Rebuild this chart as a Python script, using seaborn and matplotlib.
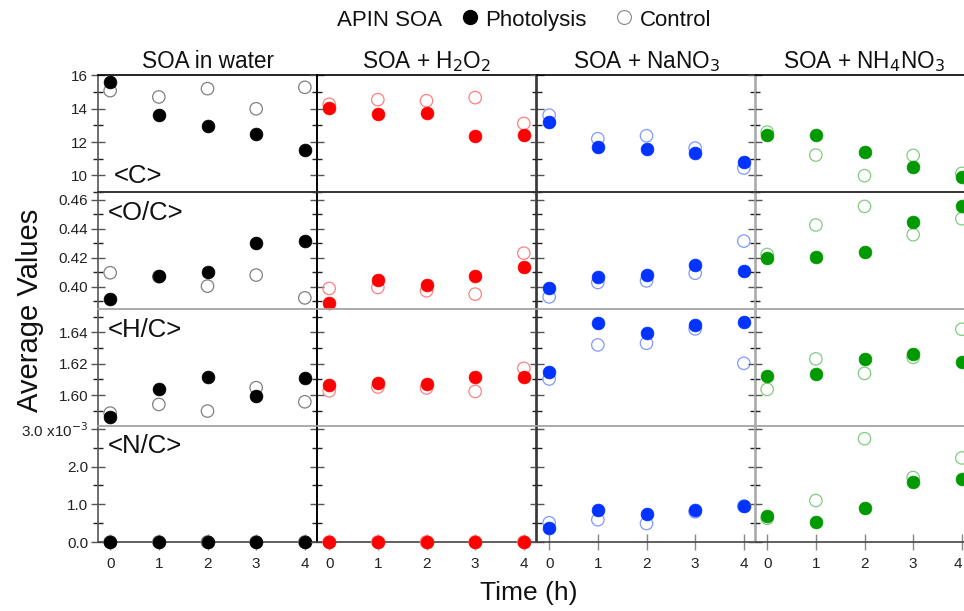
import matplotlib
matplotlib.use("Agg")
import matplotlib.pyplot as plt
from matplotlib.lines import Line2D
import seaborn as sns
import pandas as pd

sns.set_theme(style="white")
plt.rcParams['font.family'] = ['Liberation Sans', 'DejaVu Sans']

# ---------------- data ----------------
TIME = [0, 1, 2, 3, 4]
PANELS = ["SOA in water", "SOA + H$_2$O$_2$", "SOA + NaNO$_3$", "SOA + NH$_4$NO$_3$"]
ROWS = ["<C>", "<O/C>", "<H/C>", "<N/C>"]
LEGEND_TITLE = "APIN SOA"
SERIES = ["Photolysis", "Control"]

C_PHOT = [[15.61, 13.62, 12.96, 12.46, 11.54],
          [14.06, 13.70, 13.74, 12.34, 12.44],
          [13.22, 11.72, 11.60, 11.36, 10.82],
          [12.40, 12.40, 11.38, 10.50, 9.92]]
C_CTRL = [[15.09, 14.71, 15.21, 14.00, 15.29],
          [14.27, 14.55, 14.48, 14.67, 13.12],
          [13.62, 12.20, 12.38, 11.64, 10.44],
          [12.60, 11.22, 9.98, 11.20, 10.12]]

OC_PHOT = [[0.3915, 0.4072, 0.4103, 0.4299, 0.4317],
           [0.3892, 0.4046, 0.4014, 0.4074, 0.4134],
           [0.3991, 0.4069, 0.4081, 0.4148, 0.4108],
           [0.4198, 0.4203, 0.4241, 0.4444, 0.4559]]
OC_CTRL = [[0.4097, 0.4070, 0.4005, 0.4081, 0.3924],
           [0.3989, 0.3996, 0.3973, 0.3950, 0.4232],
           [0.3931, 0.4030, 0.4041, 0.4094, 0.4315],
           [0.4223, 0.4426, 0.4554, 0.4359, 0.4469]]

HC_PHOT = [[1.5857, 1.6036, 1.6112, 1.5996, 1.6110],
           [1.6064, 1.6074, 1.6068, 1.6117, 1.6117],
           [1.6149, 1.6457, 1.6396, 1.6445, 1.6468],
           [1.6123, 1.6134, 1.6232, 1.6264, 1.6213]]
HC_CTRL = [[1.5885, 1.5940, 1.5898, 1.6047, 1.5957],
           [1.6027, 1.6051, 1.6045, 1.6023, 1.6170],
           [1.6102, 1.6319, 1.6330, 1.6421, 1.6202],
           [1.6036, 1.6230, 1.6138, 1.6240, 1.6419]]

NC_PHOT = [[0.0, 0.0, 0.0, 0.0, 0.0],
           [0.0, 0.0, 0.0, 0.0, 0.0],
           [0.38e-3, 0.84e-3, 0.73e-3, 0.86e-3, 0.95e-3],
           [0.68e-3, 0.52e-3, 0.90e-3, 1.59e-3, 1.67e-3]]
NC_CTRL = [[0.0, 0.0, 0.0, 0.0, 0.0],
           [0.0, 0.0, 0.0, 0.0, 0.0],
           [0.51e-3, 0.59e-3, 0.49e-3, 0.80e-3, 0.95e-3],
           [0.63e-3, 1.10e-3, 2.74e-3, 1.71e-3, 2.23e-3]]

YMAJOR = [[10, 12, 14, 16], [0.40, 0.42, 0.44, 0.46], [1.60, 1.62, 1.64], [0, 1e-3, 2e-3, 3e-3]]
YMINOR = [[9, 11, 13, 15], [0.39, 0.41, 0.43, 0.45], [1.59, 1.61, 1.63, 1.65], [0.5e-3, 1.5e-3, 2.5e-3]]
YLABELS = [["10", "12", "14", "16"], ["0.40", "0.42", "0.44", "0.46"], ["1.60", "1.62", "1.64"],
           ["0.0", "1.0", "2.0", "3.0 x10$^{-3}$"]]

# ---------------- styling ----------------
FILL = ["#000000", "#ff0000", "#0033ff", "#009900"]
OPEN = ["#808080", "#ff8080", "#8099ff", "#80cc80"]
YLIMS = [(9.0, 16.03), (0.3851, 0.4653), (1.5806, 1.6551), (0.0, 3.09e-3)]

W, H = 964, 611
XEDGES = [98, 317, 537, 755]
PW = 219
YEDGES = [75, 192, 308.5, 425.5, 542]
HCOL = ["#000000", "#333333", "#aaaaaa", "#aaaaaa", "#444444"]
VCOL = ["#555555", "#000000", "#333333", "#aaaaaa"]

phot = [C_PHOT, OC_PHOT, HC_PHOT, NC_PHOT]
ctrl = [C_CTRL, OC_CTRL, HC_CTRL, NC_CTRL]

fig = plt.figure(figsize=(W / 100, H / 100), dpi=100)

for r in range(4):
    for p in range(4):
        left = XEDGES[p] / W
        bottom = 1 - YEDGES[r + 1] / H
        height = (YEDGES[r + 1] - YEDGES[r]) / H
        ax = fig.add_axes([left, bottom, PW / W, height])
        ax.set_facecolor("none")
        df = pd.DataFrame({"t": TIME, "ctrl": ctrl[r][p], "phot": phot[r][p]})
        sns.scatterplot(data=df, x="t", y="ctrl", ax=ax, s=80, marker="o",
                        facecolor="none", edgecolor=OPEN[p], linewidth=0.9,
                        clip_on=False, zorder=3, legend=False)
        sns.scatterplot(data=df, x="t", y="phot", ax=ax, s=85, marker="o",
                        color=FILL[p], edgecolor=FILL[p], linewidth=0.5,
                        clip_on=False, zorder=4, legend=False)
        ax.set_xlim(-0.25, 4.25)
        ax.set_ylim(*YLIMS[r])
        ax.set_xlabel("")
        ax.set_ylabel("")
        ax.set_yticks(YMAJOR[r])
        ax.set_yticks(YMINOR[r], minor=True)
        if p == 0:
            ax.set_yticklabels(YLABELS[r], fontsize=11, color="#222222")
        else:
            ax.set_yticklabels([])
        ax.tick_params(axis="y", which="major", direction="inout", length=10,
                       width=1, color="#555555", pad=2, left=True)
        ax.tick_params(axis="y", which="minor", direction="inout", length=7,
                       width=1, color="#222222", left=True)
        if r == 3:
            ax.set_xticks(TIME)
            labs = ax.set_xticklabels([str(t) for t in TIME], fontsize=11, color="#222222")
            if p == 3:
                labs[-1].set_horizontalalignment("right")
            ax.tick_params(axis="x", which="major", direction="inout", length=11,
                           width=1, color="#888888", pad=5, bottom=True)
        else:
            ax.set_xticks([])
        ax.spines["top"].set_color(HCOL[r])
        ax.spines["bottom"].set_color(HCOL[r + 1])
        ax.spines["left"].set_color(VCOL[p])
        ax.spines["right"].set_color(VCOL[p + 1] if p < 3 else "#aaaaaa")
        for s in ax.spines.values():
            s.set_linewidth(1.2)
        ax.grid(False)
        if p == 0:
            ax.text(0.07 if r == 0 else 0.045, 0.14 if r == 0 else 0.82, ROWS[r],
                    transform=ax.transAxes, fontsize=18.5, ha="left", va="center",
                    color="#111111")
        if r == 0:
            ax.text(0.5, 1.0 + 13 / (YEDGES[1] - YEDGES[0]), PANELS[p], transform=ax.transAxes,
                    fontsize=16.3, ha="center", va="center", color="#111111")

# legend line at top (title, then the two series keys)
LY = 1 - 18 / H
fig.text(390 / W, LY, LEGEND_TITLE, fontsize=16, ha="center", va="center_baseline",
         color="#111111")
fig.add_artist(Line2D([470 / W], [LY + 1 / H], marker="o", linestyle="none", markersize=10,
                      markerfacecolor="black", markeredgecolor="black",
                      transform=fig.transFigure))
fig.text(485 / W, LY, SERIES[0], fontsize=16, ha="left", va="center_baseline", color="#111111")
fig.add_artist(Line2D([624 / W], [LY + 1 / H], marker="o", linestyle="none", markersize=10,
                      markerfacecolor="none", markeredgecolor="#888888", markeredgewidth=0.8,
                      transform=fig.transFigure))
fig.text(640 / W, LY, SERIES[1], fontsize=16, ha="left", va="center_baseline", color="#111111")

fig.text(30 / W, 1 - 310 / H, "Average Values", rotation=90, fontsize=21,
         ha="center", va="center", color="#111111")
fig.text(529 / W, 1 - 593 / H, "Time (h)", fontsize=19, ha="center", va="center", color="#111111")

fig.savefig("out.png", dpi=100)
